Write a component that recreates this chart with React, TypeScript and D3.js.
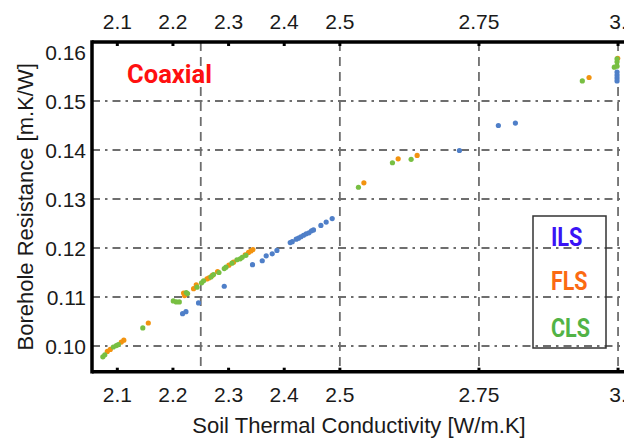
import React from "react";
import * as d3 from "d3";

// Soil thermal conductivity [W/m.K] vs borehole resistance [m.K/W]
const ilsK = [2.2173, 2.2234, 2.246, 2.2922, 2.343, 2.3605, 2.3676, 2.3784, 2.3869, 2.4108, 2.4144, 2.4215, 2.4257, 2.43, 2.4347, 2.4395, 2.4444, 2.449, 2.4526, 2.4659, 2.4754, 2.4862, 2.7149, 2.7849, 2.8155, 2.9982, 2.9982, 2.9982, 2.9982];
const ilsR = [0.1066, 0.107, 0.1088, 0.1122, 0.1166, 0.1174, 0.1184, 0.1188, 0.1195, 0.1211, 0.1213, 0.1218, 0.122, 0.1223, 0.1226, 0.1229, 0.1231, 0.1235, 0.1237, 0.1246, 0.1253, 0.126, 0.1399, 0.145, 0.1455, 0.1559, 0.1553, 0.1547, 0.1541];

const flsK = [2.082, 2.0874, 2.1072, 2.1117, 2.1557, 2.2191, 2.2209, 2.2371, 2.2419, 2.2611, 2.2647, 2.2707, 2.2802, 2.3006, 2.3089, 2.3299, 2.3359, 2.3402, 2.3438, 2.5432, 2.6048, 2.6389, 2.9479, 2.9994];
const flsR = [0.0989, 0.0993, 0.1008, 0.1012, 0.1047, 0.1108, 0.1103, 0.1117, 0.1125, 0.1137, 0.1139, 0.1144, 0.1152, 0.1165, 0.1171, 0.1186, 0.1191, 0.1194, 0.1197, 0.1333, 0.1382, 0.1389, 0.1548, 0.1587];

const clsK = [2.074, 2.0775, 2.0928, 2.0982, 2.1018, 2.1458, 2.2006, 2.206, 2.2114, 2.2239, 2.2263, 2.2432, 2.2514, 2.255, 2.2683, 2.273, 2.2827, 2.2922, 2.2953, 2.306, 2.315, 2.3209, 2.3245, 2.3312, 2.5334, 2.5945, 2.6281, 2.9358, 2.9933, 2.9982, 2.9982, 2.9982];
const clsR = [0.0978, 0.0982, 0.0998, 0.1001, 0.1003, 0.1037, 0.1092, 0.109, 0.109, 0.1109, 0.1107, 0.112, 0.1129, 0.1133, 0.1141, 0.1146, 0.115, 0.1158, 0.1161, 0.1169, 0.1176, 0.1178, 0.1181, 0.1185, 0.1324, 0.1374, 0.1381, 0.1541, 0.1569, 0.1571, 0.158, 0.1586];

const xTicks = [2.1, 2.2, 2.3, 2.4, 2.5, 2.75, 3];
const xTickLabels = ["2.1", "2.2", "2.3", "2.4", "2.5", "2.75", "3."];
const xGrid = [2.25, 2.5, 2.75, 3];
const yTicks = [0.1, 0.11, 0.12, 0.13, 0.14, 0.15, 0.16];
const yGrid = [0.1, 0.11, 0.12, 0.13, 0.14, 0.15];

const seriesNames = ["ILS", "FLS", "CLS"];
const pointColors = ["#4f7fc8", "#f2930f", "#78bf42"];
const labelColors = ["#3a14f5", "#fb6a12", "#52b346"];

export default function App() {
  const W = 624, H = 442;
  const left = 92, right = 630, top = 42, bottom = 371.7;
  const x = d3.scaleLinear().domain([2.0545, 3.0215]).range([left, right]);
  const y = d3.scaleLinear().domain([0.09476, 0.16204]).range([bottom, top]);
  const font = "'Liberation Sans', Arial, sans-serif";
  const series = [
    { k: ilsK, r: ilsR },
    { k: flsK, r: flsR },
    { k: clsK, r: clsR },
  ];
  const legendY = [246, 290, 337];
  const legendW = [31.5, 36.5, 39];
  return (
    <svg width={W} height={H} style={{ position: "absolute", left: 0, top: 0, background: "#fff" }}>
      <rect x={0} y={0} width={W} height={H} fill="#fff" />
      {/* grid */}
      {yGrid.map((v) => (
        <line key={"hg" + v} x1={left} x2={W} y1={y(v)} y2={y(v)} stroke="#6e6e6e" strokeWidth={1.8} strokeDasharray="8,5,2.5,5" />
      ))}
      {xGrid.map((v) => (
        <line key={"vg" + v} x1={x(v)} x2={x(v)} y1={top} y2={bottom} stroke="#6e6e6e" strokeWidth={1.8} strokeDasharray="9,6" />
      ))}
      {/* legend box */}
      <rect x={533} y={216} width={73} height={132} fill="none" stroke="#333" strokeWidth={1.5} />
      {seriesNames.map((n, i) => (
        <text key={n} x={551} y={legendY[i]} fill={labelColors[i]} fontFamily="Roboto, sans-serif" fontWeight={700} fontSize={25} textLength={legendW[i]} lengthAdjust="spacingAndGlyphs">{n}</text>
      ))}
      {/* points */}
      {series.map((s, si) =>
        s.k.map((kv, i) => (
          <circle key={si + "-" + i} cx={x(kv)} cy={y(s.r[i])} r={2.6} fill={pointColors[si]} />
        ))
      )}
      {/* axes */}
      <line x1={left} x2={W} y1={top} y2={top} stroke="#000" strokeWidth={3.5} />
      <line x1={left} x2={W} y1={bottom} y2={bottom} stroke="#000" strokeWidth={3.5} />
      <line x1={left} x2={left} y1={top - 1.75} y2={bottom + 1.75} stroke="#000" strokeWidth={3.5} />
      {xTicks.map((v) => (
        <g key={"xt" + v}>
          <line x1={x(v)} x2={x(v)} y1={top} y2={top + 4} stroke="#000" strokeWidth={3} />
          <line x1={x(v)} x2={x(v)} y1={bottom} y2={bottom - 4} stroke="#000" strokeWidth={3} />
        </g>
      ))}
      {xTicks.map((v, i) => (
        <g key={"xl" + v} fontFamily={font} fontSize={21} fill="#1a1a1a" textAnchor="middle">
          <text x={x(v)} y={29}>{xTickLabels[i]}</text>
          <text x={x(v)} y={402}>{xTickLabels[i]}</text>
        </g>
      ))}
      {yTicks.map((v) => (
        <text key={"yl" + v} x={86} y={y(v) + 8} fontFamily={font} fontSize={21} fill="#1a1a1a" textAnchor="end">{v.toFixed(2)}</text>
      ))}
      <text x={359} y={433} fontFamily={font} fontSize={22} fill="#1a1a1a" textAnchor="middle">Soil Thermal Conductivity [W/m.K]</text>
      <text transform={`translate(33,${(top + bottom) / 2}) rotate(-90)`} fontFamily={font} fontSize={22} fill="#1a1a1a" textAnchor="middle">Borehole Resistance [m.K/W]</text>
      <text x={127} y={83} fill="#ff1010" fontFamily="Roboto, sans-serif" fontWeight={700} fontSize={25} textLength={85} lengthAdjust="spacingAndGlyphs">Coaxial</text>
    </svg>
  );
}
